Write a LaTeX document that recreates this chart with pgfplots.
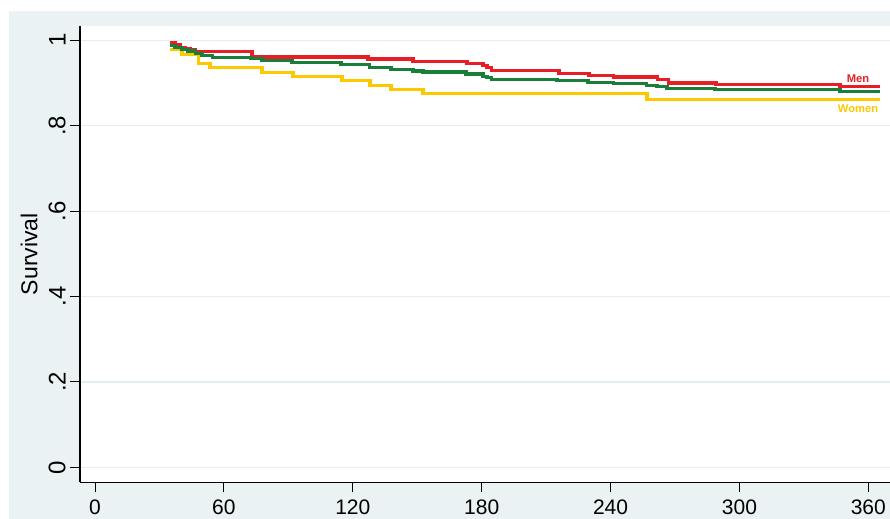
\documentclass[border=0pt]{standalone}
\usepackage{pgfplots}
\pgfplotsset{compat=1.18}
\usepackage{fontspec}
\setmainfont{Liberation Sans}
\definecolor{bgcol}{RGB}{234,242,243}
\definecolor{gridcol}{RGB}{228,238,241}
\definecolor{menred}{RGB}{232,30,36}
\definecolor{allgreen}{RGB}{24,126,58}
\definecolor{womyel}{RGB}{252,200,0}
\begin{document}
\begin{tikzpicture}
\useasboundingbox (0,0) rectangle (445pt,259.5pt);
\fill[bgcol] (4.5pt,0) rectangle (445pt,254pt);
\begin{axis}[
  at={(40pt,18.35pt)}, anchor=south west,
  scale only axis, width=405pt, height=228.15pt,
  xmin=-7, xmax=370.1, ymin=-0.035, ymax=1.0335,
  axis lines*=left,
  axis line style={black, line width=0.6pt},
  axis background/.style={fill=white},
  xtick={0,60,120,180,240,300,360},
  ytick={0,0.2,0.4,0.6,0.8,1},
  yticklabels={0,.2,.4,.6,.8,1},
  tick align=outside, major tick length=5pt,
  tick style={black, line width=0.5pt},
  ymajorgrids, grid style={gridcol, line width=0.6pt},
  xticklabel style={font=\fontsize{10.5}{12}\selectfont},
  /pgf/number format/assume math mode=true,
  yticklabel style={rotate=90, anchor=south, font=\fontsize{12}{13}\selectfont, inner sep=2pt},
  ylabel={Survival},
  ylabel style={font=\fontsize{11.5}{13}\selectfont},
  clip=false,
]
\addplot[const plot, womyel, line width=1.6pt] coordinates {
(35,0.978) (40.5,0.967) (48,0.945) (53.5,0.937) (77.7,0.925) (92.2,0.915)
(115,0.905) (128,0.894) (137.8,0.885) (152.7,0.875) (257,0.862) (365.5,0.862)};
\addplot[const plot, menred, line width=1.6pt] coordinates {
(35,0.994) (37.2,0.989) (39.6,0.984) (41.9,0.981) (44.2,0.978) (46.6,0.974)
(73.1,0.961) (127.1,0.956) (148,0.951) (173.2,0.946) (180.6,0.941) (182.5,0.936)
(184.4,0.929) (216,0.922) (230,0.918) (241.2,0.914) (262,0.909) (266.8,0.900)
(289.1,0.896) (346.8,0.891) (365.5,0.891)};
\addplot[const plot, allgreen, line width=1.6pt] coordinates {
(35,0.988) (37.2,0.984) (40.5,0.979) (43.3,0.975) (46.6,0.970) (49.8,0.964)
(54.5,0.959) (72.6,0.957) (77.7,0.953) (91.7,0.948) (114.5,0.944) (127.6,0.937)
(137.8,0.932) (148,0.928) (152.7,0.926) (172.7,0.921) (180.6,0.916) (182.5,0.912)
(184.4,0.909) (215.1,0.906) (229.5,0.901) (241.2,0.898) (256.6,0.895) (261.6,0.891)
(266.3,0.888) (288.6,0.884) (346.8,0.880) (365.5,0.880)};
\node[menred, font=\fontsize{5.6}{6}\selectfont\bfseries] at (axis cs:355.2,0.909) {Men};
\node[womyel, font=\fontsize{5.6}{6}\selectfont\bfseries] at (axis cs:355.2,0.839) {Women};
\end{axis}
\end{tikzpicture}
\end{document}
